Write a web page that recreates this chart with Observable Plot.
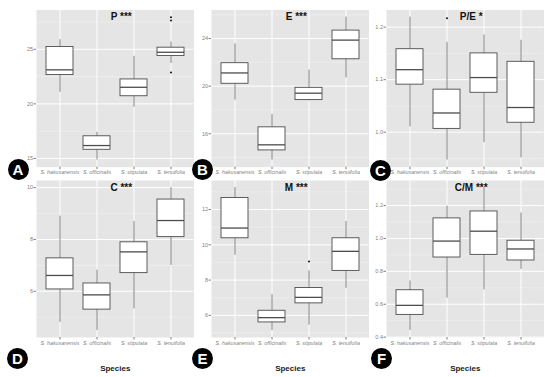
<!DOCTYPE html>
<html>
<head>
<meta charset="utf-8">
<script src="https://cdn.jsdelivr.net/npm/d3@7"></script>
<script src="https://cdn.jsdelivr.net/npm/@observablehq/plot@0.6"></script>
<style>
  body { margin: 0; background: white; }
  #wrap { position: relative; width: 550px; height: 377px; background: white; overflow: hidden; font-family: "Liberation Sans", Arial, sans-serif; }
  #wrap svg { position: absolute; }
  .badge { position: absolute; width: 21px; height: 21px; border-radius: 50%; background: #000; color: #fff; font: bold 15px "Liberation Sans", Arial, sans-serif; text-align: center; line-height: 21px; }
</style>
</head>
<body>
<div id="wrap"></div>
<script>
// Categories
const species = ["S. hakusanensis", "S. officinalis", "S. stipulata", "S. tenuifolia"];

// Box statistics per species: [min, q1, median, q3, max]
const P_stats  = [[21.06, 22.64, 23.12, 25.21, 25.88], [14.85, 15.79, 16.18, 17.03, 17.39], [19.70, 20.70, 21.52, 22.24, 24.36], [23.70, 24.39, 24.73, 25.15, 25.67]];
const E_stats  = [[18.83, 20.20, 21.11, 21.93, 23.55], [13.79, 14.60, 15.07, 16.54, 17.63], [18.75, 18.83, 19.41, 19.86, 21.35], [20.70, 22.26, 23.87, 24.67, 25.80]];
const PE_stats = [[1.010, 1.0905, 1.119, 1.158, 1.219], [0.947, 1.0063, 1.0366, 1.081, 1.171], [0.980, 1.075, 1.104, 1.150, 1.185], [0.951, 1.018, 1.047, 1.134, 1.175]];
const C_stats  = [[4.80, 6.07, 6.61, 7.27, 8.90], [4.49, 5.29, 5.86, 6.30, 6.81], [5.32, 6.70, 7.52, 7.89, 8.69], [7.00, 8.09, 8.73, 9.54, 10.00]];
const M_stats  = [[9.41, 10.37, 10.95, 12.65, 13.24], [5.15, 5.60, 5.87, 6.26, 7.17], [5.44, 6.68, 7.02, 7.55, 8.52], [7.53, 8.52, 9.63, 10.37, 11.32]];
const CM_stats = [[0.441, 0.535, 0.593, 0.685, 0.741], [0.637, 0.884, 0.984, 1.122, 1.197], [0.687, 0.900, 1.044, 1.164, 1.309], [0.812, 0.866, 0.936, 0.986, 1.155]];

// Outliers
const P_out_species  = ["S. tenuifolia", "S. tenuifolia", "S. tenuifolia"];
const P_out_values   = [22.88, 27.95, 27.65];
const PE_out_species = ["S. officinalis"];
const PE_out_values  = [1.217];
const M_out_species  = ["S. stipulata"];
const M_out_values   = [9.05];

// Tick values
const P_ticks  = [15, 20, 25];
const E_ticks  = [16, 20, 24];
const PE_ticks = [1.0, 1.1, 1.2];
const C_ticks  = [6, 8, 10];
const M_ticks  = [6, 8, 10, 12];
const CM_ticks = [0.4, 0.6, 0.8, 1.0, 1.2];

// Panel titles and letters
const titles  = ["P ***", "E ***", "P/E *", "C ***", "M ***", "C/M ***"];
const letters = ["A", "B", "C", "D", "E", "F"];
const xLabel = "Species";

const wrap = document.getElementById("wrap");

function rowsOf(stats) {
  return stats.map((s, i) => ({sp: species[i], min: s[0], q1: s[1], med: s[2], q3: s[3], max: s[4]}));
}
function outOf(sps, vals) { return sps.map((s, i) => ({sp: s, v: vals[i]})); }

function panel({stats, outs, ticks, fmt, title, left, top, height, mTop, mBottom, showLabel}) {
  const rows = rowsOf(stats);
  const allv = stats.flat().concat(outs.map(d => d.v));
  const lo = d3.min(allv), hi = d3.max(allv), pad = (hi - lo) * 0.05;
  const domain = [lo - pad, hi + pad];
  const step = ticks[1] - ticks[0];
  const minor = [];
  for (let v = ticks[0] - step / 2; v <= domain[1]; v += step) if (v >= domain[0]) minor.push(+v.toFixed(6));
  const marks = [
    Plot.frame({fill: "#e5e5e5", stroke: null}),
    Plot.ruleY(minor, {stroke: "#f2f2f2", strokeWidth: 0.6}),
    Plot.ruleY(ticks, {stroke: "#ffffff", strokeWidth: 1}),
    Plot.ruleX(species, {stroke: "#ffffff", strokeWidth: 1}),
    Plot.axisY({ticks, tickFormat: fmt, tickSize: 2.5, tickPadding: 1, fontSize: 5.5, color: "#7f7f7f", label: null}),
    Plot.axisX({tickSize: 2.5, tickPadding: 1, fontSize: 5.3, fontStyle: "italic", color: "#7f7f7f", label: null}),
    Plot.ruleX(rows, {x: "sp", y1: "min", y2: "max", stroke: "#666", strokeWidth: 0.8}),
    Plot.barY(rows, {x: "sp", y1: "q1", y2: "q3", fill: "white", stroke: "#4d4d4d", strokeWidth: 0.9}),
    Plot.tickY(rows, {x: "sp", y: "med", stroke: "#4d4d4d", strokeWidth: 1.3}),
    Plot.dot(outs, {x: "sp", y: "v", r: 1, fill: "#111", stroke: null}),
    Plot.text([title], {frameAnchor: "top", dx: 6, dy: 7, fontSize: 10, fontWeight: "bold", fill: "#111", lineAnchor: "middle"})
  ];
  if (showLabel) marks.push(Plot.text([xLabel], {frameAnchor: "bottom", dy: 31, fontSize: 8, fontWeight: "bold", fill: "#222", lineAnchor: "middle"}));
  const chart = Plot.plot({
    width: 200, height,
    marginLeft: 36, marginRight: 200 - 36 - 157.5, marginTop: mTop, marginBottom: mBottom,
    style: {background: "none", fontFamily: "Liberation Sans, Arial, sans-serif", overflow: "visible"},
    x: {type: "band", domain: species, paddingInner: 0.26, paddingOuter: 0.23, axis: null},
    y: {domain, axis: null},
    marks
  });
  chart.style.left = left + "px";
  chart.style.top = top + "px";
  wrap.appendChild(chart);
}

const topH = 180, botTop = 170, botH = 207;
panel({stats: P_stats,  outs: outOf(P_out_species, P_out_values),   ticks: P_ticks,  fmt: d3.format("d"),  title: titles[0], left: 0,   top: 0, height: topH, mTop: 9.5, mBottom: 13.3});
panel({stats: E_stats,  outs: [],                                    ticks: E_ticks,  fmt: d3.format("d"),  title: titles[1], left: 175, top: 0, height: topH, mTop: 9.5, mBottom: 13.3});
panel({stats: PE_stats, outs: outOf(PE_out_species, PE_out_values), ticks: PE_ticks, fmt: d3.format(".1f"), title: titles[2], left: 350, top: 0, height: topH, mTop: 9.5, mBottom: 13.3});
panel({stats: C_stats,  outs: [],                                    ticks: C_ticks,  fmt: d3.format("d"),  title: titles[3], left: 0,   top: botTop, height: botH, mTop: 10, mBottom: 40, showLabel: true});
panel({stats: M_stats,  outs: outOf(M_out_species, M_out_values),   ticks: M_ticks,  fmt: d3.format("d"),  title: titles[4], left: 175, top: botTop, height: botH, mTop: 10, mBottom: 40, showLabel: true});
panel({stats: CM_stats, outs: [],                                    ticks: CM_ticks, fmt: d3.format(".1f"), title: titles[5], left: 350, top: botTop, height: botH, mTop: 10, mBottom: 40, showLabel: true});

const badgePos = [[18, 169], [202.5, 169.5], [380.5, 170], [17.5, 358], [202.5, 358.5], [381.5, 358]];
letters.forEach((L, i) => {
  const b = document.createElement("div");
  b.className = "badge";
  b.textContent = L;
  b.style.left = (badgePos[i][0] - 10.5) + "px";
  b.style.top = (badgePos[i][1] - 10.5) + "px";
  wrap.appendChild(b);
});
</script>
</body>
</html>
